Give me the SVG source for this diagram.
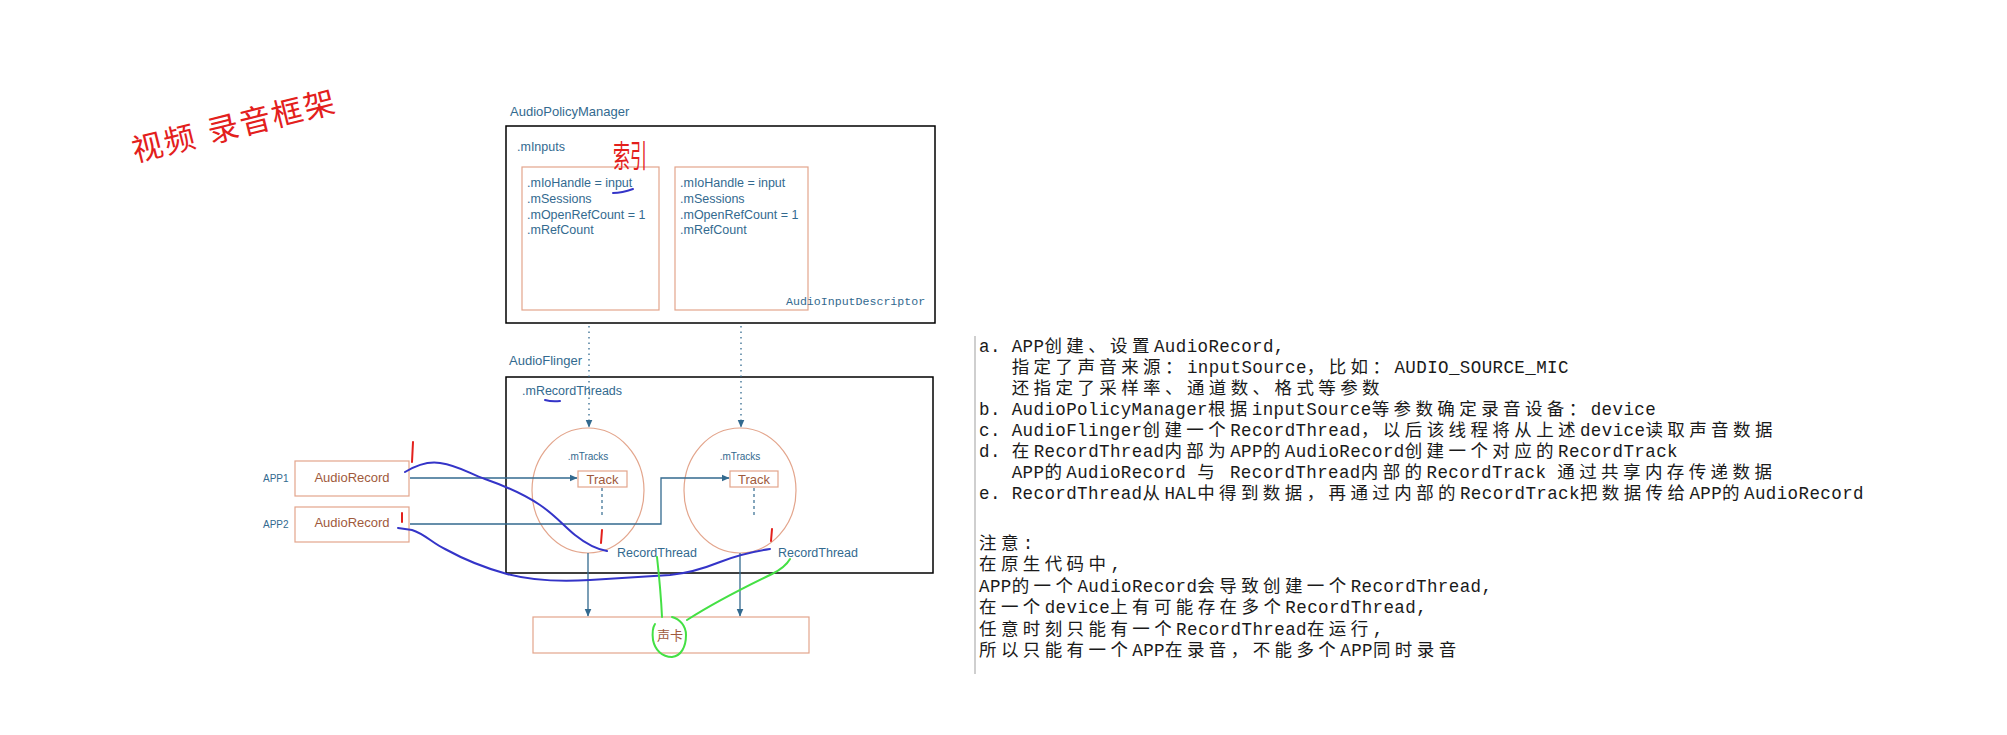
<svg xmlns="http://www.w3.org/2000/svg" width="2007" height="735" viewBox="0 0 2007 735">
<defs>
<style>
.lbl{font-family:"Liberation Sans",Arial,sans-serif;fill:#336a8f}
.h{font-size:13px}
.f{font-size:12.5px}
.s{font-size:10px}
.br{font-family:"Liberation Sans",Arial,"Noto Sans CJK SC",sans-serif;fill:#a05a3c;font-size:13px}
.blk{fill:none;stroke:#000;stroke-width:1.5}
.sal{fill:none;stroke:#e3a58c;stroke-width:1.2}
.con{fill:none;stroke:#336a8f;stroke-width:1.3}
.dot{fill:none;stroke:#336a8f;stroke-width:1.3;stroke-dasharray:1.5 4}
.dash{fill:none;stroke:#336a8f;stroke-width:1.2;stroke-dasharray:3 3}
.mono{font-family:"Liberation Mono","Courier New","Noto Sans CJK SC",monospace;font-size:17.5px;fill:#1a1a1a;letter-spacing:0.4px}
.k{font-family:"Noto Sans CJK SC",sans-serif;font-size:17.5px;letter-spacing:4.4px}
.pen{fill:none;stroke-width:2;stroke-linecap:round;stroke-linejoin:round}
.blue{stroke:#3434c8}
.red{stroke:#e3201c}
.green{stroke:#44e044}
</style>
<marker id="arr" viewBox="0 0 8 8" refX="7.5" refY="4" markerWidth="8" markerHeight="8" markerUnits="userSpaceOnUse" orient="auto">
<path d="M0,0.5 L8,4 L0,7.5 Z" fill="#336a8f"/>
</marker>
</defs>
<rect width="2007" height="735" fill="#fff"/>

<text x="135" y="162" transform="rotate(-14 135 162)" font-family="'Noto Sans CJK SC',sans-serif" font-size="31" fill="#e3201c" letter-spacing="2">视频<tspan dx="12">录音框架</tspan></text>

<g id="audiopolicymanager">
<text class="lbl h" x="510" y="116">AudioPolicyManager</text>
<rect class="blk" x="506" y="126" width="429" height="197"/>
<text class="lbl f" x="517" y="151">.mInputs</text>
</g>

<g id="input-desc-1">
<rect class="sal" x="522" y="167" width="137" height="143"/>
<text class="lbl f" x="527" y="187">.mIoHandle = input</text>
<text class="lbl f" x="527" y="203">.mSessions</text>
<text class="lbl f" x="527" y="219">.mOpenRefCount = 1</text>
<text class="lbl f" x="527" y="234">.mRefCount</text>
</g>

<g id="input-desc-2">
<rect class="sal" x="675" y="167" width="133" height="143"/>
<text class="lbl f" x="680" y="187">.mIoHandle = input</text>
<text class="lbl f" x="680" y="203">.mSessions</text>
<text class="lbl f" x="680" y="219">.mOpenRefCount = 1</text>
<text class="lbl f" x="680" y="234">.mRefCount</text>
<text x="786" y="305" font-family="'Liberation Mono',monospace" font-size="11.6" fill="#336a8f">AudioInputDescriptor</text>
</g>

<g id="audioflinger">
<text class="lbl h" x="509" y="365">AudioFlinger</text>
<rect class="blk" x="506" y="377" width="427" height="196"/>
<text class="lbl f" x="522" y="395">.mRecordThreads</text>
</g>

<g id="recordthread-1">
<ellipse class="sal" cx="588" cy="490.5" rx="56" ry="62.5"/>
<text class="lbl s" x="588" y="460" text-anchor="middle">.mTracks</text>
<rect class="sal" x="578" y="471" width="49" height="16"/>
<text class="br" x="602.5" y="484" text-anchor="middle">Track</text>
<text class="lbl f" x="617" y="557">RecordThread</text>
</g>

<g id="recordthread-2">
<ellipse class="sal" cx="740" cy="490.5" rx="56" ry="62.5"/>
<text class="lbl s" x="740" y="460" text-anchor="middle">.mTracks</text>
<rect class="sal" x="730" y="471" width="48" height="16"/>
<text class="br" x="754" y="484" text-anchor="middle">Track</text>
<text class="lbl f" x="778" y="557">RecordThread</text>
</g>

<g id="app1">
<text class="lbl s" x="263" y="482">APP1</text>
<rect class="sal" x="295" y="461" width="114" height="35"/>
<text class="br" x="352" y="482" text-anchor="middle">AudioRecord</text>
</g>

<g id="app2">
<text class="lbl s" x="263" y="528">APP2</text>
<rect class="sal" x="295" y="507" width="114" height="35"/>
<text class="br" x="352" y="527" text-anchor="middle">AudioRecord</text>
</g>

<g id="soundcard">
<rect class="sal" x="533" y="617" width="276" height="36"/>
<text class="br" x="670" y="640" text-anchor="middle" font-size="12">声卡</text>
</g>

<g id="connectors">
<path class="dot" d="M589,326 V427" marker-end="url(#arr)"/>
<path class="dot" d="M741,326 V427" marker-end="url(#arr)"/>
<path class="con" d="M410,478 H577" marker-end="url(#arr)"/>
<path class="con" d="M410,524 H661 V478 H729" marker-end="url(#arr)"/>
<path class="dash" d="M602,488 V517"/>
<path class="dash" d="M754,488 V517"/>
<path class="con" d="M588,553 V616" marker-end="url(#arr)"/>
<path class="con" d="M740,553 V616" marker-end="url(#arr)"/>
</g>

<g id="annotations">
<text x="0" y="0" transform="translate(613,167) scale(0.9,1.6)" font-family="'Noto Sans CJK SC',sans-serif" font-size="19" fill="#e3201c">索引</text>
<path class="pen blue" d="M613,193 Q622,193 633,189"/>
<path class="pen blue" d="M545,400 Q552,402 560,401"/>
<path class="pen blue" d="M405,472 C415,466 428,461 440,463 C460,466 470,474 485,479 C505,486 525,495 540,505 C555,515 565,527 575,535 C585,543 595,549 607,551"/>
<path class="pen blue" d="M398,528 L412,530 C425,534 432,543 445,549 C465,560 485,568 507,574 C530,580 560,582 590,580 C620,578 650,576 670,575 C690,573 705,568 720,562 C735,556 750,552 770,549"/>
<path class="pen red" d="M413,442 L412,462"/>
<path class="pen red" d="M402,513 L402,522"/>
<path class="pen red" d="M602,530 L601,543"/>
<path class="pen red" d="M772,529 L771,541"/>
<path class="pen green" d="M657,557 C659,575 661,595 662,617"/>
<path class="pen green" d="M790,559 C786,566 780,570 772,574 C745,587 715,602 687,620"/>
<path class="pen green" d="M672,617 C680,619 686,626 686,635 C686,647 681,656 672,657 C662,657 655,650 653,640 C652,632 653,627 655,624"/>
</g>

<g id="notes">
<line x1="975" y1="336" x2="975" y2="674" stroke="#cfcfcf" stroke-width="2"/>
<text class="mono" x="979" y="352">a. APP<tspan class="k">创建、设置</tspan>AudioRecord,</text>
<text class="mono" x="1011.7" y="373"><tspan class="k">指定了声音来源：</tspan>inputSource<tspan class="k">，比如：</tspan>AUDIO_SOURCE_MIC</text>
<text class="mono" x="1011.7" y="394"><tspan class="k">还指定了采样率、通道数、格式等参数</tspan></text>
<text class="mono" x="979" y="415">b. AudioPolicyManager<tspan class="k">根据</tspan>inputSource<tspan class="k">等参数确定录音设备：</tspan>device</text>
<text class="mono" x="979" y="436">c. AudioFlinger<tspan class="k">创建一个</tspan>RecordThread<tspan class="k">，以后该线程将从上述</tspan>device<tspan class="k">读取声音数据</tspan></text>
<text class="mono" x="979" y="457">d. <tspan class="k">在</tspan>RecordThread<tspan class="k">内部为</tspan>APP<tspan class="k">的</tspan>AudioRecord<tspan class="k">创建一个对应的</tspan>RecordTrack</text>
<text class="mono" x="1011.7" y="478">APP<tspan class="k">的</tspan>AudioRecord <tspan class="k">与</tspan> RecordThread<tspan class="k">内部的</tspan>RecordTrack <tspan class="k">通过共享内存传递数据</tspan></text>
<text class="mono" x="979" y="499">e. RecordThread<tspan class="k">从</tspan>HAL<tspan class="k">中得到数据，再通过内部的</tspan>RecordTrack<tspan class="k">把数据传给</tspan>APP<tspan class="k">的</tspan>AudioRecord</text>
<text class="mono" x="979" y="549"><tspan class="k">注意</tspan>:</text>
<text class="mono" x="979" y="570"><tspan class="k">在原生代码中</tspan>,</text>
<text class="mono" x="979" y="592">APP<tspan class="k">的一个</tspan>AudioRecord<tspan class="k">会导致创建一个</tspan>RecordThread,</text>
<text class="mono" x="979" y="613"><tspan class="k">在一个</tspan>device<tspan class="k">上有可能存在多个</tspan>RecordThread,</text>
<text class="mono" x="979" y="635"><tspan class="k">任意时刻只能有一个</tspan>RecordThread<tspan class="k">在运行</tspan>,</text>
<text class="mono" x="979" y="656"><tspan class="k">所以只能有一个</tspan>APP<tspan class="k">在录音，不能多个</tspan>APP<tspan class="k">同时录音</tspan></text>
</g>
</svg>
